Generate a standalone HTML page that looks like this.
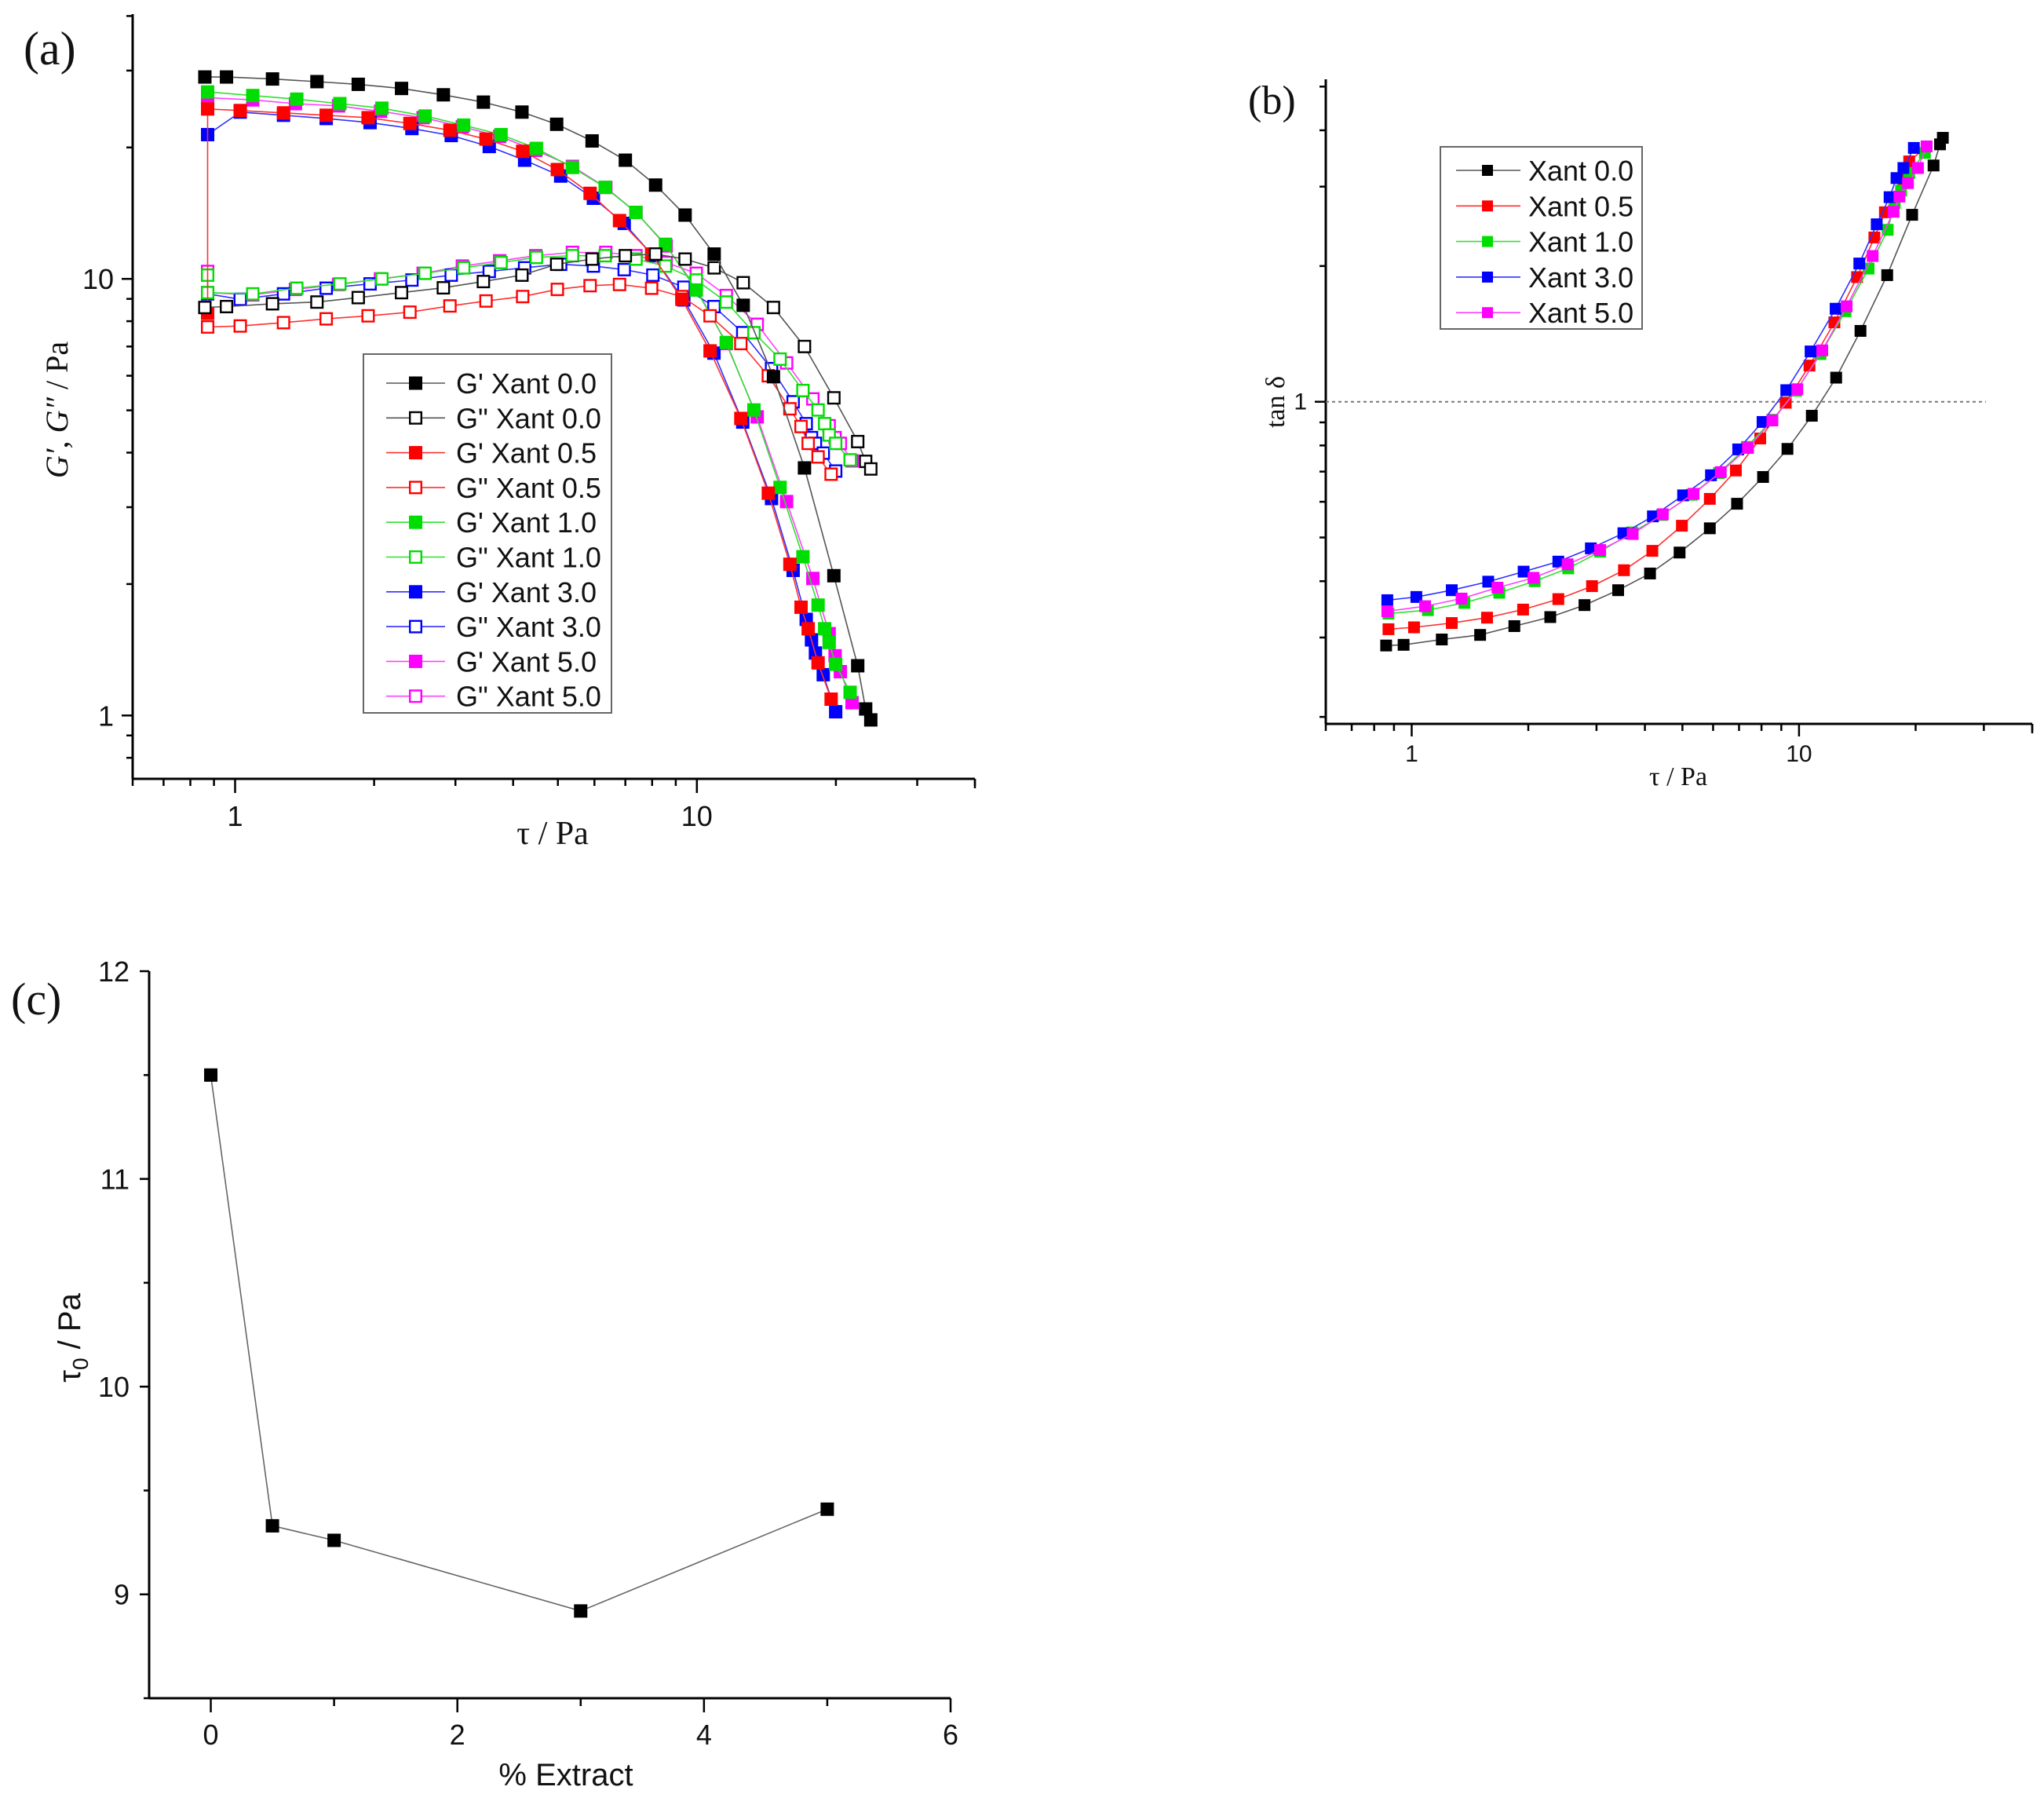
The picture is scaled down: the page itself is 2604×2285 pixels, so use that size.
<!DOCTYPE html>
<html><head><meta charset="utf-8"><style>
html,body{margin:0;padding:0;background:#fff;}
svg{display:block;}
.tk{font-family:"Liberation Sans",sans-serif;font-size:36px;fill:#111;}
.sr{font-family:"Liberation Serif",serif;fill:#111;}
.ss{font-family:"Liberation Sans",sans-serif;fill:#111;}
</style></head><body>
<svg id="fig" width="2604" height="2285" viewBox="0 0 2604 2285" xmlns="http://www.w3.org/2000/svg">
<rect width="2604" height="2285" fill="#fff"/>
<text class="sr" x="30" y="82" font-size="60">(a)</text>
<text class="sr" x="1590" y="145" font-size="52">(b)</text>
<text class="sr" x="14" y="1292" font-size="58">(c)</text>
<text class="sr" font-size="40" transform="translate(86,522) rotate(-90)" text-anchor="middle"><tspan font-style="italic">G′</tspan>, <tspan font-style="italic">G″</tspan> / Pa</text>
<text class="sr" font-size="42" x="704" y="1075" text-anchor="middle">τ / Pa</text>
<text class="sr" font-size="34" transform="translate(1636,512) rotate(-90)" text-anchor="middle">tan δ</text>
<text class="sr" font-size="34" x="2138" y="1000" text-anchor="middle">τ / Pa</text>
<text class="ss" font-size="40" transform="translate(102,1704) rotate(-90)" text-anchor="middle">τ<tspan font-size="28" dy="10">0</tspan><tspan dy="-10"> / Pa</tspan></text>
<text class="ss" font-size="40" x="721" y="2274" text-anchor="middle">% Extract</text>
</svg>
<script>
// ---------- Panel (a) data: G' and G'' vs tau ----------
const tauA00 = [0.86,0.958,1.205,1.504,1.848,2.293,2.825,3.449,4.18,4.97,5.93,7.0,8.14,9.43,10.9,12.6,14.65,17.1,19.8,22.3,23.2,23.8];
const gp00 = [29.0,29.0,28.7,28.3,27.9,27.3,26.4,25.4,24.1,22.6,20.7,18.7,16.4,14.0,11.4,8.7,5.97,3.69,2.09,1.30,1.035,0.977];
const gpp00 = [8.6,8.64,8.77,8.85,9.06,9.3,9.54,9.86,10.2,10.8,11.1,11.3,11.4,11.1,10.6,9.8,8.6,7.0,5.34,4.24,3.82,3.67];
const tauA05 = [0.872,0.872,1.026,1.273,1.575,1.941,2.391,2.919,3.494,4.195,4.987,5.872,6.8,7.98,9.28,10.68,12.45,14.28,15.9,16.81,17.42,18.3,19.53];
const gp05 = [8.34,24.5,24.3,24.0,23.7,23.4,22.7,21.9,20.9,19.6,17.8,15.7,13.6,11.4,8.98,6.84,4.79,3.23,2.22,1.77,1.58,1.32,1.09];
const tauA05b = [0.872,1.026,1.273,1.575,1.941,2.391,2.919,3.494,4.195,4.987,5.872,6.8,7.98,9.28,10.68,12.45,14.28,15.9,16.81,17.42,18.3,19.53];
const gpp05 = [7.76,7.8,7.94,8.1,8.23,8.39,8.67,8.9,9.11,9.46,9.65,9.71,9.52,9.11,8.23,7.11,6.0,5.04,4.59,4.2,3.91,3.57];
const tauA10 = [0.872,1.092,1.36,1.686,2.079,2.579,3.126,3.766,4.493,5.377,6.33,7.38,8.55,9.97,11.58,13.29,15.14,16.97,18.3,18.91,19.34,19.98,21.47];
const gp10 = [26.8,26.3,25.8,25.2,24.6,23.6,22.5,21.4,19.9,18.0,16.2,14.2,12.0,9.43,7.15,5.01,3.33,2.31,1.79,1.58,1.47,1.31,1.13];
const tauA10b = [0.872,0.872,1.092,1.36,1.686,2.079,2.579,3.126,3.766,4.493,5.377,6.33,7.38,8.55,9.97,11.58,13.29,15.14,16.97,18.3,18.91,19.34,19.98,21.47];
const gpp10 = [10.2,9.3,9.24,9.52,9.74,10.0,10.3,10.6,10.9,11.2,11.3,11.3,11.1,10.7,9.94,8.85,7.53,6.55,5.55,5.01,4.66,4.39,4.2,3.85];
const tauA30 = [0.872,1.026,1.273,1.575,1.96,2.415,2.938,3.551,4.236,5.07,5.969,6.96,8.03,9.37,10.89,12.57,14.51,16.16,17.25,17.71,18.06,18.78,19.98];
const gp30 = [21.4,24.1,23.7,23.3,22.8,22.1,21.3,20.1,18.7,17.2,15.3,13.4,11.3,8.95,6.76,4.7,3.14,2.15,1.66,1.49,1.39,1.24,1.02];
const gpp30 = [9.24,8.98,9.24,9.52,9.74,9.94,10.2,10.4,10.6,10.8,10.7,10.5,10.2,9.57,8.64,7.53,6.23,5.23,4.66,4.33,4.2,3.99,3.63];
const tauA50 = [0.872,1.092,1.351,1.675,2.065,2.554,3.106,3.741,4.478,5.377,6.35,7.38,8.58,9.97,11.58,13.51,15.64,17.83,19.34,19.92,20.45,21.68];
const gp50 = [26.0,25.7,25.2,24.9,24.2,23.4,22.3,21.2,19.7,18.1,16.2,14.2,11.9,9.52,7.11,4.83,3.09,2.06,1.54,1.37,1.26,1.07];
const tauA50b = [0.872,0.872,1.092,1.351,1.675,2.065,2.554,3.106,3.741,4.478,5.377,6.35,7.38,8.58,9.97,11.58,13.51,15.64,17.83,19.34,19.92,20.45,21.68];
const gpp50 = [10.4,9.3,9.19,9.46,9.71,10.0,10.3,10.7,11.0,11.3,11.5,11.5,11.3,10.9,10.3,9.16,7.87,6.42,5.31,4.61,4.33,4.2,3.83];
const legendA = ["G' Xant 0.0","G\" Xant 0.0","G' Xant 0.5","G\" Xant 0.5","G' Xant 1.0","G\" Xant 1.0","G' Xant 3.0","G\" Xant 3.0","G' Xant 5.0","G\" Xant 5.0"];
const ticksA = [1,10];
const tickLabelsA = ["1","10"];

// ---------- Panel (b) data: tan delta vs tau ----------
const tauB00 = [0.859,0.953,1.196,1.502,1.841,2.279,2.793,3.412,4.124,4.916,5.884,6.918,8.075,9.335,10.79,12.47,14.41,16.89,19.59,22.25,23.12,23.51];
const tanB00 = [0.288,0.289,0.297,0.304,0.318,0.333,0.354,0.382,0.416,0.463,0.524,0.594,0.681,0.786,0.931,1.131,1.436,1.909,2.598,3.342,3.723,3.849];
const tauB05 = [0.871,1.014,1.269,1.565,1.939,2.391,2.921,3.532,4.181,4.985,5.884,6.87,7.94,9.24,10.64,12.34,14.12,15.65,16.66,18.6,19.25,21.35];
const tanB05 = [0.313,0.316,0.323,0.332,0.346,0.365,0.39,0.423,0.467,0.531,0.609,0.704,0.829,0.995,1.203,1.5,1.89,2.314,2.632,3.11,3.412,3.684];
const tauB10 = [0.871,1.101,1.368,1.683,2.077,2.536,3.066,3.707,4.433,5.286,6.215,7.333,8.535,9.83,11.36,13.18,15.12,16.94,17.66,18.34,19.25,21.13];
const tanB10 = [0.339,0.345,0.358,0.377,0.4,0.427,0.465,0.513,0.561,0.622,0.695,0.794,0.912,1.058,1.276,1.588,1.974,2.406,2.757,2.939,3.216,3.563];
const tauB30 = [0.865,1.028,1.269,1.576,1.945,2.391,2.901,3.52,4.195,5.02,5.925,6.965,8.05,9.27,10.71,12.43,14.31,15.87,17.13,17.85,18.6,19.79];
const tanB30 = [0.363,0.369,0.382,0.399,0.42,0.442,0.473,0.511,0.557,0.62,0.687,0.784,0.902,1.061,1.293,1.608,2.026,2.475,2.843,3.134,3.299,3.656];
const tauB50 = [0.865,1.083,1.345,1.665,2.063,2.527,3.066,3.72,4.449,5.341,6.28,7.383,8.535,9.9,11.48,13.27,15.49,17.54,18.16,19.11,20.28,21.35];
const tanB50 = [0.343,0.352,0.366,0.387,0.407,0.436,0.469,0.509,0.563,0.625,0.698,0.79,0.909,1.066,1.3,1.628,2.105,2.639,2.851,3.055,3.299,3.684];
const legendB = ["Xant 0.0","Xant 0.5","Xant 1.0","Xant 3.0","Xant 5.0"];

// ---------- Panel (c) data: yield stress vs % extract ----------
const extractC = [0,0.5,1,3,5];
const tau0C = [11.5,9.33,9.26,8.92,9.41];
const xTicksC = [0,2,4,6];
const yTicksC = [9,10,11,12];

const colors = ["#000000","#ff0000","#00dd00","#0000ff","#ff00ff"];
const lineCols = ["#555555","#ff3030","#30e030","#3030ff","#ff40ff"];
const NS = "http://www.w3.org/2000/svg";
const svg = document.getElementById('fig');
function mk(tag, attrs, parent){const e=document.createElementNS(NS,tag);for(const k in attrs)e.setAttribute(k,attrs[k]);(parent||svg).appendChild(e);return e;}
function logScale(d0,d1,r0,r1){const a=Math.log10(d0),b=Math.log10(d1);return v=>r0+(Math.log10(v)-a)/(b-a)*(r1-r0);}
function linScale(d0,d1,r0,r1){return v=>r0+(v-d0)/(d1-d0)*(r1-r0);}

const axA={x:logScale(0.6,40,169,1242),y:logScale(0.716,40.4,992,18)};
const axB={x:logScale(0.6,40,1689,2589),y:logScale(0.193,5.19,922,101)};
const axC={x:linScale(-0.5,6,190,1211),y:linScale(8.5,12,2163,1237)};

function drawFrame(name,x0,x1,y0,y1){
  const g=mk('g',{});
  
  
  const l1=mk('line',{x1:x0,y1:y0,x2:x1,y2:y0,stroke:'#000','stroke-width':3},g);
  
  
  const l2=mk('line',{x1:x0,y1:y0,x2:x0,y2:y1,stroke:'#000','stroke-width':3},g);
  
  
  return g;
}
function logTicks(g,sx,sy,isX,lo,hi,fixed,majLen,minLen){
  for(let d=-1;d<=1;d++){for(let m=1;m<=9;m++){const v=m*Math.pow(10,d);if(v<lo||v>hi)continue;
    const len=(m===1)?majLen:minLen;
    if(isX){const p=sx(v);mk('line',{x1:p,y1:fixed,x2:p,y2:fixed+len,stroke:'#000','stroke-width':2.5},g);}
    else{const p=sy(v);mk('line',{x1:fixed,y1:p,x2:fixed-len,y2:p,stroke:'#000','stroke-width':2.5},g);}
  }}
}
const gA=drawFrame('panel-a',169,1242,992,18);
logTicks(gA,axA.x,null,true,0.6,40,992,18,9);
logTicks(gA,null,axA.y,false,0.716,40.4,169,14,8);
mk('line',{x1:1242,y1:992,x2:1242,y2:1004,stroke:'#000','stroke-width':2.5},gA);
ticksA.forEach((v,i)=>{
  const t=mk('text',{x:axA.x(v),y:1052,'text-anchor':'middle',class:'tk'},gA);t.textContent=tickLabelsA[i];
  
  
  const u=mk('text',{x:145,y:axA.y(v)+13,'text-anchor':'end',class:'tk'},gA);u.textContent=tickLabelsA[i];
  
  
});
const gB=drawFrame('panel-b',1689,2589,922,101);
logTicks(gB,axB.x,null,true,0.6,40,922,16,9);
logTicks(gB,null,axB.y,false,0.193,5.19,1689,14,8);
mk('line',{x1:2589,y1:922,x2:2589,y2:934,stroke:'#000','stroke-width':2.5},gB);
[1,10].forEach((v,i)=>{
  const t=mk('text',{x:axB.x(v),y:970,'text-anchor':'middle',class:'ss','font-size':30},gB);t.textContent=String(v);
  
  
});
const tb=mk('text',{x:1665,y:axB.y(1)+10,'text-anchor':'end',class:'ss','font-size':30},gB);tb.textContent='1';


const ref=mk('line',{x1:1689,y1:axB.y(1),x2:2530,y2:axB.y(1),stroke:'#777','stroke-width':2,'stroke-dasharray':'4,4'},gB);


const gC=drawFrame('panel-c',190,1211,2163,1237);
for(let v=0;v<=6;v++){const p=axC.x(v);mk('line',{x1:p,y1:2163,x2:p,y2:2163+(v%2===0?18:10),stroke:'#000','stroke-width':2.5},gC);}
for(let v=8.5;v<=12;v+=0.5){const p=axC.y(v);mk('line',{x1:190,y1:p,x2:190-(v%1===0?12:7),y2:p,stroke:'#000','stroke-width':2.5},gC);}
xTicksC.forEach(v=>{const t=mk('text',{x:axC.x(v),y:2222,'text-anchor':'middle',class:'tk'},gC);t.textContent=String(v);
  
  });
yTicksC.forEach(v=>{const t=mk('text',{x:165,y:axC.y(v)+13,'text-anchor':'end',class:'tk'},gC);t.textContent=String(v);
  
  });

function series(name,ax,xs,ys,col,lcol,filled,size){
  const g=mk('g',{});
  
  
  const pts=xs.map((x,i)=>ax.x(x).toFixed(1)+','+ax.y(ys[i]).toFixed(1)).join(' ');
  const pl=mk('polyline',{points:pts,fill:'none',stroke:lcol,'stroke-width':1.6},g);
  
  
  xs.forEach((x,i)=>{
    const cx=ax.x(x),cy=ax.y(ys[i]),h=size/2;
    const r=filled?mk('rect',{x:cx-h,y:cy-h,width:size,height:size,fill:col},g)
                  :mk('rect',{x:cx-h+1.2,y:cy-h+1.2,width:size-2.4,height:size-2.4,fill:'#fff',stroke:col,'stroke-width':2.4},g);
    
    
  });
}
const tauAs=[tauA00,tauA05,tauA10,tauA30,tauA50];
const tauAsB=[tauA00,tauA05b,tauA10b,tauA30,tauA50b];
const gps=[gp00,gp05,gp10,gp30,gp50];
const gpps=[gpp00,gpp05,gpp10,gpp30,gpp50];
const lbl=['00','05','10','30','50'];
for(let i=4;i>=0;i--){
  series('gpp-xant-'+lbl[i],axA,tauAsB[i],gpps[i],colors[i],lineCols[i],false,17);
  series('gp-xant-'+lbl[i],axA,tauAs[i],gps[i],colors[i],lineCols[i],true,17);
}
const tauBs=[tauB00,tauB05,tauB10,tauB30,tauB50];
const tanBs=[tanB00,tanB05,tanB10,tanB30,tanB50];
for(let i=0;i<5;i++) series('tan-delta-xant-'+lbl[i],axB,tauBs[i],tanBs[i],colors[i],lineCols[i],true,15);
series('yield-stress',axC,extractC,tau0C,'#000','#666',true,17);

const lgA=mk('g',{});


mk('rect',{x:463,y:451,width:316,height:457,fill:'#fff',stroke:'#666','stroke-width':2},lgA);
legendA.forEach((s,i)=>{
  const ci=Math.floor(i/2),filled=(i%2===0),y=488+i*44.3;
  const e=mk('g',{},lgA);
  
  
  mk('line',{x1:492,y1:y,x2:567,y2:y,stroke:lineCols[ci],'stroke-width':1.6},e);
  if(filled) mk('rect',{x:521,y:y-8.5,width:17,height:17,fill:colors[ci]},e);
  else mk('rect',{x:522.2,y:y-7.3,width:14.6,height:14.6,fill:'#fff',stroke:colors[ci],'stroke-width':2.4},e);
  const t=mk('text',{x:581,y:y+13,class:'ss','font-size':36},e);t.textContent=s;
});
const lgB=mk('g',{});


mk('rect',{x:1835,y:187,width:257,height:232,fill:'#fff',stroke:'#666','stroke-width':2},lgB);
legendB.forEach((s,i)=>{
  const y=217+i*45.3;
  const e=mk('g',{},lgB);
  
  
  mk('line',{x1:1855,y1:y,x2:1937,y2:y,stroke:lineCols[i],'stroke-width':1.6},e);
  mk('rect',{x:1888,y:y-7,width:14,height:14,fill:colors[i]},e);
  const t=mk('text',{x:1947,y:y+13,class:'ss','font-size':36},e);t.textContent=s;
});
</script>
</body></html>
